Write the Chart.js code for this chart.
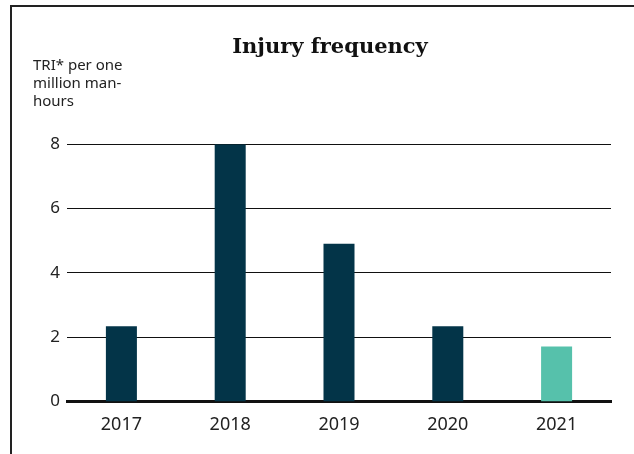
<!DOCTYPE html>
<html>
<head>
<meta charset="utf-8">
<script src="https://cdn.jsdelivr.net/npm/chart.js@4.4.1/dist/chart.umd.min.js"></script>
<style>
  html, body { margin: 0; padding: 0; background: #fff; overflow: hidden; }
  #frame { position: absolute; left: 10px; top: 5px; width: 700px; height: 500px;
           border-left: 2px solid #222; border-top: 2px solid #222; }
  #wrap { position: absolute; left: 0; top: 0; width: 634px; height: 454px; }
</style>
</head>
<body>
<div id="frame"></div>
<div id="wrap"><canvas id="chart"></canvas></div>
<script>
const years = ['2017', '2018', '2019', '2020', '2021'];
const injuryRate = [2.34, 8.0, 4.9, 2.34, 1.71];
const barColors = ['#033448', '#033448', '#033448', '#033448', '#56c1ab'];
const yTicks = [0, 2, 4, 6, 8];
const unitLines = ['TRI* per one', 'million man-', 'hours'];

window.addEventListener('load', () => {
    // unit text in the top-left corner, above the y axis
    const unitLabel = {
        id: 'unitLabel',
        afterDraw(chart) {
            const ctx = chart.ctx;
            ctx.save();
            ctx.font = '15px "Noto Sans"';
            ctx.fillStyle = '#222';
            ctx.textAlign = 'left';
            ctx.textBaseline = 'alphabetic';
            unitLines.forEach((line, i) => ctx.fillText(line, 33, 70 + i * 18));
            ctx.restore();
        }
    };

    new Chart(document.getElementById('chart'), {
        type: 'bar',
        data: {
            labels: years,
            datasets: [{
                data: injuryRate,
                backgroundColor: barColors,
                barPercentage: 0.285,
                categoryPercentage: 1
            }]
        },
        options: {
            responsive: true,
            maintainAspectRatio: false,
            animation: false,
            layout: { padding: { left: 49, right: 23, top: 0, bottom: 13 } },
            plugins: {
                legend: { display: false },
                tooltip: { enabled: false },
                title: {
                    display: true,
                    text: 'Injury frequency',
                    color: '#111',
                    font: { family: '"DejaVu Serif"', size: 21, weight: 'bold' },
                    padding: { top: 35, bottom: 84 }
                }
            },
            scales: {
                x: {
                    grid: { display: false },
                    border: { display: true, color: '#111', width: 3 },
                    ticks: {
                        color: '#222',
                        padding: 5,
                        font: { family: '"Noto Sans"', size: 18 }
                    }
                },
                y: {
                    min: 0,
                    max: 8,
                    afterBuildTicks: axis => { axis.ticks = yTicks.map(v => ({ value: v })); },
                    afterFit: axis => { axis.width = 18; },
                    border: { display: false },
                    grid: {
                        color: '#111',
                        lineWidth: c => (c.tick && c.tick.value === 0 ? 0 : 1),
                        drawTicks: false
                    },
                    ticks: {
                        color: '#222',
                        padding: 7,
                        font: { family: '"Noto Sans"', size: 17 }
                    }
                }
            }
        },
        plugins: [unitLabel]
    });
});
</script>
</body>
</html>
